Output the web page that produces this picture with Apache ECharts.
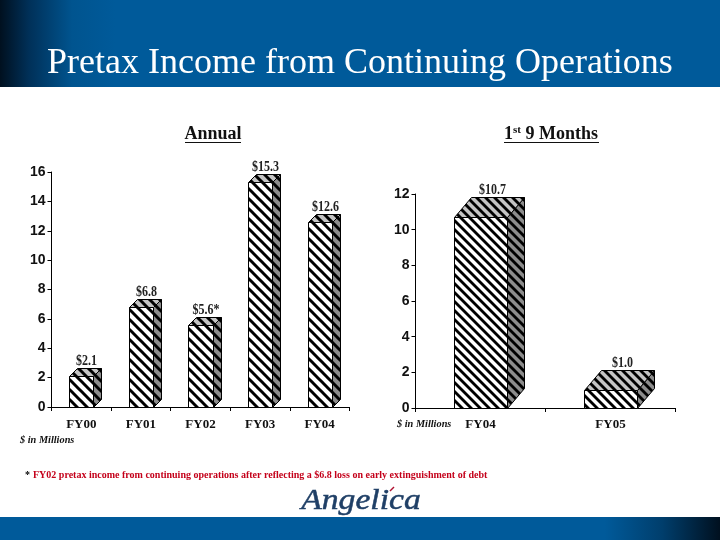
<!DOCTYPE html>
<html><head><meta charset="utf-8">
<style>html,body{margin:0;padding:0;background:#fff}#c{width:720px;height:540px}</style>
<script src="https://cdn.jsdelivr.net/npm/echarts@6/dist/echarts.min.js"></script>
</head><body><div id="c"></div>
<script>
var annualCategories = ['FY00','FY01','FY02','FY03','FY04'];
var annualValues = [2.1,6.8,5.6,15.3,12.6];
var annualLabels = ['$2.1','$6.8','$5.6*','$15.3','$12.6'];
var nineCategories = ['FY04','FY05'];
var nineValues = [10.7,1.0];
var nineLabels = ['$10.7','$1.0'];

function stripes(bg, period, w){
  var c = document.createElement('canvas');
  c.width = c.height = period;
  var x = c.getContext('2d');
  x.fillStyle = bg; x.fillRect(0,0,period,period);
  x.strokeStyle = '#000'; x.lineWidth = w;
  for (var k=-1;k<=1;k++){
    x.beginPath(); x.moveTo(k*period-2,-2); x.lineTo(k*period+period+2,period+2); x.stroke();
  }
  return {image:c, repeat:'repeat'};
}
var serif = '"Liberation Serif"';

function bar3d(labels, dx, dy, labelOffset, period, lw){
  var front = stripes('#fff',period,lw), top_ = stripes('#c4c4c4',period,lw), side = stripes('#8c8c8c',period,lw);
  return function(params, api){
    var i = api.value(0), p = api.coord([i, api.value(1)]), o = api.coord([i, 0]);
    var w = api.size([1,0])[0]*0.405, l = Math.round(p[0]-w/2)+0.5, r = Math.round(p[0]+w/2)+0.5, t = Math.round(p[1])+0.5, b = Math.round(o[1])+0.5;
    function poly(pts, fill){ return {type:'polygon', shape:{points:pts}, style:{fill:fill, stroke:'#000', lineWidth:1}}; }
    return {type:'group', children:[
      poly([[r,t],[r+dx,t-dy],[r+dx,b-dy],[r,b]], side),
      poly([[l,t],[l+dx,t-dy],[r+dx,t-dy],[r,t]], top_),
      poly([[l,t],[r,t],[r,b],[l,b]], front),
      {type:'text', x:(l+r+dx)/2+labelOffset, y:t-dy, scaleX:0.8,
        style:{text:labels[i], x:0, y:0, align:'center', verticalAlign:'bottom', font:'bold 15px '+serif, fill:'#222'}}
    ]};
  };
}
function axisSet(cats, grid, margin){
  return {type:'category', gridIndex:grid, data:cats,
    axisLine:{lineStyle:{color:'#000',width:1}}, axisTick:{show:true,alignWithLabel:false,length:4,lineStyle:{color:'#000'}},
    axisLabel:{color:'#111',fontFamily:serif,fontWeight:'bold',fontSize:13,margin:margin}, splitLine:{show:false}};
}
function valSet(max, grid){
  return {type:'value', gridIndex:grid, min:0, max:max, interval:2,
    axisLine:{show:true,lineStyle:{color:'#000',width:1}}, axisTick:{show:true,length:4,lineStyle:{color:'#000'}},
    axisLabel:{color:'#111',fontFamily:'"Liberation Sans"',fontWeight:'bold',fontSize:14,margin:6}, splitLine:{show:false}};
}
function band(y,h,stops){
  return {type:'rect', shape:{x:0,y:y,width:720,height:h}, silent:true,
    style:{fill:new echarts.graphic.LinearGradient(0,0,1,0,stops)}};
}
var chart = echarts.init(document.getElementById('c'), null, {renderer:'canvas'});
chart.setOption({
  animation:false, backgroundColor:'#fff',
  grid:[{left:51.5,top:172,width:298,height:235},{left:415.5,top:194,width:260,height:214}],
  xAxis:[axisSet(annualCategories,0,11),axisSet(nineCategories,1,10)],
  yAxis:[valSet(16,0),valSet(12,1)],
  series:[
    {type:'custom', xAxisIndex:0, yAxisIndex:0, clip:false, renderItem:bar3d(annualLabels,8,8,1,10,3),
      data:annualValues.map(function(v,i){return [i,v];})},
    {type:'custom', xAxisIndex:1, yAxisIndex:1, clip:false, renderItem:bar3d(nineLabels,17,20,3,9,2.8),
      data:nineValues.map(function(v,i){return [i,v];})}
  ],
  graphic:[
    band(0,87,[{offset:0,color:'#00101f'},{offset:0.04,color:'#003058'},{offset:0.1,color:'#00548f'},{offset:0.16,color:'#005a9a'},{offset:1,color:'#005a9a'}]),
    band(517,23,[{offset:0,color:'#005a9a'},{offset:0.84,color:'#005a9a'},{offset:0.92,color:'#003e6c'},{offset:1,color:'#00101f'}]),
    {type:'text', silent:true, style:{text:'Pretax Income from Continuing Operations', x:47, y:64, verticalAlign:'middle', font:'36px '+serif, fill:'#fff'}},
    {type:'text', silent:true, style:{text:'Annual', x:213, y:134, align:'center', verticalAlign:'middle', font:'bold 18px '+serif, fill:'#111'}},
    {type:'line', silent:true, shape:{x1:185,y1:142.5,x2:241,y2:142.5}, style:{stroke:'#111',lineWidth:1}},
    {type:'text', silent:true, style:{text:'{a|1}{s|st}{a| 9 Months}', x:551, y:134, align:'center', verticalAlign:'middle',
      rich:{a:{font:'bold 18px '+serif, fill:'#111'}, s:{font:'bold 11px '+serif, fill:'#111', verticalAlign:'top', padding:[0,0,6,0]}}}},
    {type:'line', silent:true, shape:{x1:504,y1:142.5,x2:599,y2:142.5}, style:{stroke:'#111',lineWidth:1}},
    {type:'text', silent:true, style:{text:'$ in Millions', x:20, y:440, verticalAlign:'middle', font:'italic bold 10.3px '+serif, fill:'#111'}},
    {type:'text', silent:true, style:{text:'$ in Millions', x:397, y:424, verticalAlign:'middle', font:'italic bold 10.3px '+serif, fill:'#111'}},
    {type:'text', silent:true, style:{text:'*', x:25, y:475, verticalAlign:'middle', font:'bold 10px '+serif, fill:'#000'}},
    {type:'text', silent:true, style:{text:'FY02 pretax income from continuing operations after reflecting a $6.8 loss on early extinguishment of debt', x:33, y:475, verticalAlign:'middle', font:'bold 10px '+serif, fill:'#c4001a'}},
    {type:'text', silent:true, x:361, y:501, scaleX:1.12, style:{text:'Angelica', x:0, y:0, align:'center', verticalAlign:'middle', font:'italic 30px '+serif, fill:'#1f3f66', stroke:'#1f3f66', lineWidth:0.5}},
    {type:'line', silent:true, shape:{x1:390,y1:491,x2:394,y2:487}, style:{stroke:'#b01030',lineWidth:1.5}}
  ]
});
</script></body></html>
